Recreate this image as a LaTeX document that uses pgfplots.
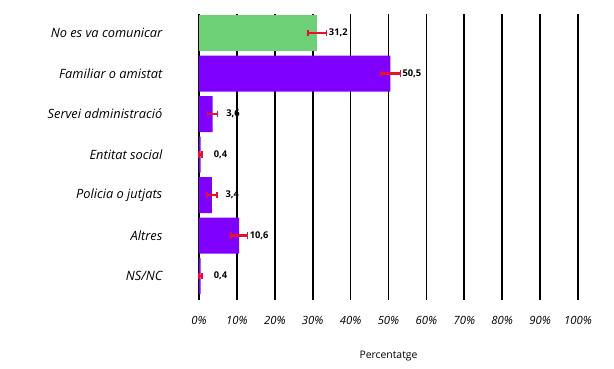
\documentclass[border=0pt]{standalone}
\usepackage{pgfplots}
\pgfplotsset{compat=1.18}
\usepackage{fontspec}
\setmainfont{Open Sans}
\definecolor{barg}{HTML}{6DCF76}
\definecolor{barp}{HTML}{8000FF}
\definecolor{errc}{HTML}{E8112D}
\begin{document}
\begin{tikzpicture}[x=0.75pt,y=0.75pt]
\begin{axis}[
  name=ax,
  scale only axis,
  width=284.25pt, height=214.5pt,
  bar width=0.89,
  xmin=0, xmax=100,
  ymin=-0.47, ymax=6.59,
  y dir=reverse,
  axis line style={draw=none},
  xtick={0,10,...,100},
  xticklabels={0\%,10\%,20\%,30\%,40\%,50\%,60\%,70\%,80\%,90\%,100\%},
  ytick={0,...,6},
  yticklabels={No es va comunicar,Familiar o amistat,Servei administració,Entitat social,Policia o jutjats,Altres,NS/NC},
  tick style={draw=none},
  xmajorgrids, grid style={black, line width=1.3pt},
  x tick label style={font=\fontsize{8.5}{10}\selectfont\itshape, yshift=-9pt},
  y tick label style={font=\fontsize{9.6}{11}\selectfont\itshape, xshift=-24pt},
  xlabel={Percentatge},
  xlabel style={font=\fontsize{7.8}{9}\selectfont, yshift=-13pt},
  clip=false,
  errline/.style={draw=errc, line width=1.8pt, mark=|, mark size=2.4pt, mark options={draw=errc, line width=1.1pt, solid}, forget plot},
]
\addplot[xbar, fill=barg, draw=none, bar shift=0pt]
  coordinates {(31.2,0)};
\addplot[xbar, fill=barp, draw=none, bar shift=0pt]
  coordinates {(50.5,1) (3.6,2) (0.4,3) (3.4,4) (10.6,5) (0.4,6)};
% error bars (value +- error)
\addplot[errline] coordinates {(28.7,0) (33.7,0)};
\addplot[errline] coordinates {(47.9,1) (53.1,1)};
\addplot[errline] coordinates {(2.3,2) (4.9,2)};
\addplot[errline] coordinates {(0.0,3) (0.8,3)};
\addplot[errline] coordinates {(2.1,4) (4.7,4)};
\addplot[errline] coordinates {(8.4,5) (12.8,5)};
\addplot[errline] coordinates {(0.0,6) (0.8,6)};
\addplot[draw=none, mark=none, forget plot,
  nodes near coords, point meta=explicit symbolic,
  every node near coord/.append style={font=\fontsize{7}{8}\selectfont\bfseries, anchor=west, xshift=0pt, yshift=0pt, text=black, inner sep=1.5pt}]
  coordinates {
   (33.7,0) [31,2]
   (53.1,1) [50,5]
   (6.6,2) [3,6]
   (3.3,3) [0,4]
   (6.4,4) [3,4]
   (12.8,5) [10,6]
   (3.3,6) [0,4]
  };
\end{axis}
\useasboundingbox ([shift={(-199,-68)}]ax.south west) rectangle ([shift={(415,300)}]ax.south west);
\end{tikzpicture}
\end{document}
